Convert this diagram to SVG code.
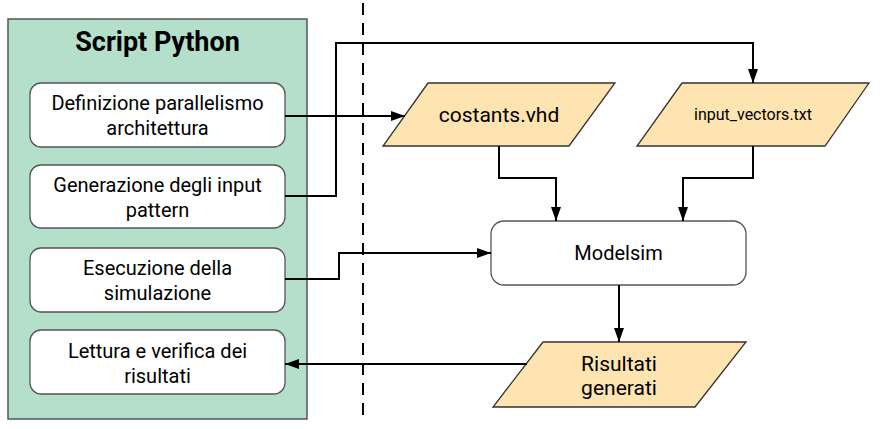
<svg xmlns="http://www.w3.org/2000/svg" width="881" height="429" viewBox="0 0 881 429">
<defs>
<marker id="ah" markerUnits="userSpaceOnUse" markerWidth="14" markerHeight="10" refX="14" refY="5" orient="auto">
<path d="M0,0 L14,5 L0,10 z" fill="#000"/>
</marker>
<style>
.t{font-family:Roboto,"Liberation Sans",sans-serif;font-size:20px;fill:#000;text-anchor:middle}
.box{fill:#fff;stroke:#555;stroke-width:1.3}
.io{fill:#fde4b1;stroke:#333;stroke-width:1.3}
.c{fill:none;stroke:#000;stroke-width:2}
</style>
</defs>
<rect width="881" height="429" fill="#fff"/>
<g id="script-python">
<rect x="8" y="19" width="299" height="400" fill="#b4dfca" stroke="#555" stroke-width="1.5"/>
<text class="t" x="157.5" y="51" style="font-size:27px;font-weight:bold">Script Python</text>
</g>
<line x1="363" y1="3" x2="363" y2="416" stroke="#000" stroke-width="2" stroke-dasharray="12 8"/>
<g id="definizione">
<rect class="box" x="30" y="83" width="255" height="64" rx="11"/>
<text class="t" x="157.5" y="110">Definizione parallelismo</text>
<text class="t" x="157.5" y="135">architettura</text>
</g>
<g id="generazione">
<rect class="box" x="30" y="165" width="255" height="63" rx="11"/>
<text class="t" x="157.5" y="192">Generazione degli input</text>
<text class="t" x="157.5" y="217">pattern</text>
</g>
<g id="esecuzione">
<rect class="box" x="30" y="248" width="255" height="64" rx="11"/>
<text class="t" x="157.5" y="275">Esecuzione della</text>
<text class="t" x="157.5" y="300">simulazione</text>
</g>
<g id="lettura">
<rect class="box" x="30" y="330" width="255" height="64" rx="11"/>
<text class="t" x="157.5" y="358">Lettura e verifica dei</text>
<text class="t" x="157.5" y="383">risultati</text>
</g>
<g id="costants">
<polygon class="io" points="428,83 615,83 569,146 383,146"/>
<text class="t" x="499" y="122" style="font-size:21px">costants.vhd</text>
</g>
<g id="input-vectors">
<polygon class="io" points="682,83 869,83 825,146 637,146"/>
<text class="t" x="753" y="120" style="font-size:16px">input_vectors.txt</text>
</g>
<g id="modelsim">
<rect class="box" x="491" y="221" width="255" height="64" rx="13"/>
<text class="t" x="618.5" y="260">Modelsim</text>
</g>
<g id="risultati">
<polygon class="io" points="543,342 746,342 695,407 493,407"/>
<text class="t" x="619" y="371" style="font-size:21px">Risultati</text>
<text class="t" x="619" y="395" style="font-size:21px">generati</text>
</g>
<g id="connectors">
<path class="c" d="M285,116 H405" marker-end="url(#ah)"/>
<path class="c" d="M285,196 H336 V43 H753 V83" marker-end="url(#ah)"/>
<path class="c" d="M285,279 H339 V253 H491" marker-end="url(#ah)"/>
<path class="c" d="M499,146 V178 H556 V221" marker-end="url(#ah)"/>
<path class="c" d="M753,146 V178 H683 V221" marker-end="url(#ah)"/>
<path class="c" d="M619,285 V342" marker-end="url(#ah)"/>
<path class="c" d="M527,364 H285" marker-end="url(#ah)"/>
</g>
</svg>
